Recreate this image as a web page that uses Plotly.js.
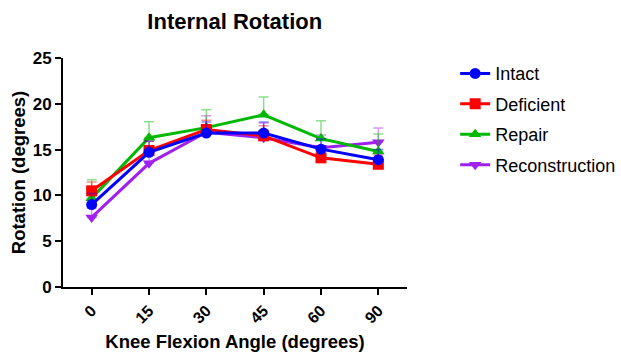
<!DOCTYPE html>
<html>
<head>
<meta charset="utf-8">
<script src="https://cdn.plot.ly/plotly-3.0.1.min.js"></script>
<style>html,body{margin:0;padding:0;background:#fff;}#chart{width:621px;height:352px;}</style>
</head>
<body>
<div id="chart"></div>
<script>
const angles = ['0', '15', '30', '45', '60', '90'];
const seriesNames = ['Intact', 'Deficient', 'Repair', 'Reconstruction'];
const intact = [9.0, 14.7, 16.8, 16.8, 15.05, 13.9];
const intactErr = [1.2, 1.2, 1.2, 1.2, 1.1, 1.1];
const deficient = [10.5, 14.9, 17.2, 16.5, 14.1, 13.4];
const deficientErr = [0.95, 1.0, 1.0, 1.1, 1.0, 1.0];
const repair = [9.7, 16.3, 17.4, 18.8, 16.2, 14.8];
const repairErr = [2.0, 1.75, 1.95, 1.95, 1.95, 1.9];
const reconstruction = [7.6, 13.5, 16.9, 16.3, 15.2, 15.8];
const reconstructionErr = [1.0, 1.2, 1.8, 1.6, 1.4, 1.55];

const FONT = 'Liberation Sans, Arial, Helvetica, sans-serif';
const zeros = angles.map(() => 0);

function mk(name, y, err, color, errColor, symbol, rank) {
  return {
    type: 'scatter', mode: 'lines+markers', name: name, x: angles, y: y,
    legendrank: rank, legendgroup: name,
    line: {color: color, width: 3},
    marker: {color: color, symbol: symbol, size: 11},
    error_y: {type: 'data', array: err, arrayminus: zeros, symmetric: false,
              color: errColor, thickness: 1.5, width: 5}
  };
}

const traces = [
  mk(seriesNames[3], reconstruction, reconstructionErr, '#a020f0', 'rgba(160,32,240,0.45)', 'triangle-down', 4),
  mk(seriesNames[2], repair, repairErr, '#00b800', 'rgba(0,184,0,0.45)', 'triangle-up', 3),
  mk(seriesNames[1], deficient, deficientErr, '#ff0000', 'rgba(255,0,0,0.45)', 'square', 2),
  mk(seriesNames[0], intact, intactErr, '#0000ff', 'rgba(0,0,255,0.45)', 'circle', 1)
];

const layout = {
  width: 621, height: 352,
  margin: {l: 63, r: 214, t: 58, b: 65, autoexpand: false},
  paper_bgcolor: '#fff', plot_bgcolor: '#fff',
  font: {family: FONT, color: '#000'},
  title: {text: 'Internal Rotation', font: {family: FONT, size: 22, weight: 'bold', color: '#000'},
          x: 0.378, xanchor: 'center', y: 0.94, yanchor: 'middle'},
  xaxis: {
    type: 'category', range: [-0.5, 5.5],
    showline: true, linecolor: '#000', linewidth: 2,
    ticks: 'outside', ticklen: 6, tickwidth: 2, tickcolor: '#000',
    tickangle: -45, showgrid: false, zeroline: false,
    tickfont: {family: FONT, size: 16, weight: 'bold'},
    title: {text: 'Knee Flexion Angle (degrees)', font: {family: FONT, size: 18.5, weight: 'bold'}, standoff: 12}
  },
  yaxis: {
    range: [0, 25], dtick: 5,
    showline: true, linecolor: '#000', linewidth: 2,
    ticks: 'outside', ticklen: 6, tickwidth: 2, tickcolor: '#000',
    showgrid: false, zeroline: false,
    tickfont: {family: FONT, size: 17, weight: 'bold'},
    title: {text: 'Rotation (degrees)', font: {family: FONT, size: 18.5, weight: 'bold'}, standoff: 2}
  },
  showlegend: true,
  legend: {x: 1.14, xanchor: 'left', y: 1.012, yanchor: 'top',
           font: {family: FONT, size: 18}, traceorder: 'grouped', tracegroupgap: 4,
           bgcolor: 'rgba(0,0,0,0)'}
};

Plotly.newPlot('chart', traces, layout, {displayModeBar: false, staticPlot: true});
</script>
</body>
</html>
